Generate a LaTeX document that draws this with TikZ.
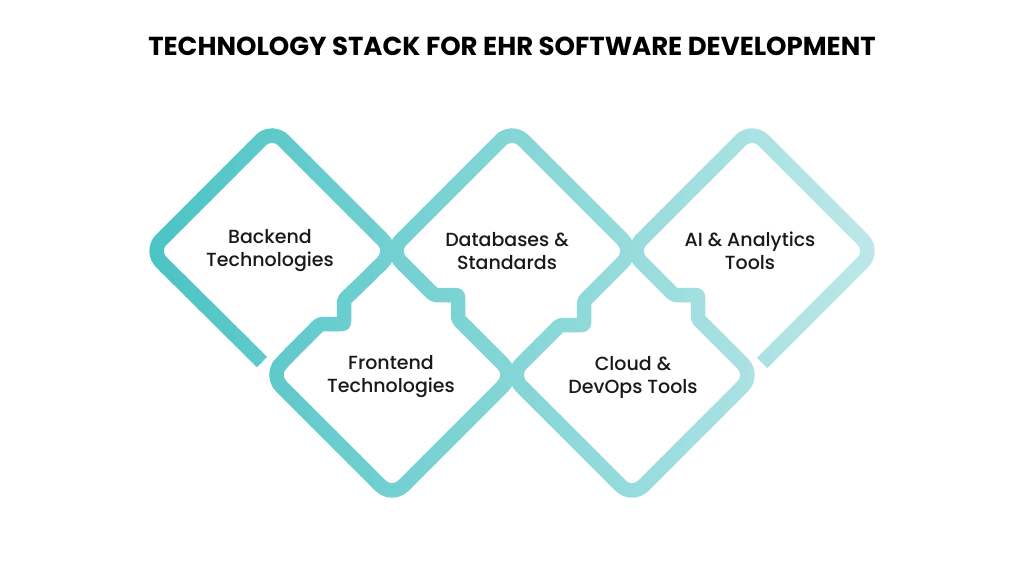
\documentclass[tikz,border=0pt]{standalone}
\usepackage{fontspec}
\setmainfont{Poppins}
\newfontfamily\lblfont{Poppins Medium}
\begin{document}
\begin{tikzpicture}[x=1pt,y=-1pt,
  lbl/.style={align=center,font=\lblfont\fontsize{19}{23}\selectfont,text=black!90},
  ttl/.style={font=\bfseries\fontsize{26}{30}\selectfont,text=black}]
\useasboundingbox (0,0) rectangle (1024,576);
\fill[white] (0,0) rectangle (1024,576);
\def\chain{(262,362) [rounded corners=16] -- (150,251) -- (272,129) -- (394,251) -- (369,276) [rounded corners=2] -- (344,300) -- (344,324) -- (320,324) -- (295,349) [rounded corners=16] -- (270,375)
 -- (392,497) -- (514,375) -- (486,347) [rounded corners=2] -- (458,319) -- (458,295) -- (434,295) -- (412,273) [rounded corners=16] -- (390,251)
 -- (512,129) -- (634,251) -- (609,276) [rounded corners=2] -- (584,301) -- (584,325) -- (560,325) -- (535,350) [rounded corners=16] -- (510,375)
 -- (632,497) -- (754,375) -- (726,347) [rounded corners=2] -- (698,319) -- (698,295) -- (674,295) -- (652,273) [rounded corners=16] -- (630,251)
 -- (752,129) -- (874,251) -- (762,363)}
\foreach \i in {0,...,59}{
  \pgfmathsetmacro\xa{135+\i*12.5}
  \pgfmathsetmacro\t{\i/59}
  \pgfmathsetmacro\r{75+115*\t}
  \pgfmathsetmacro\g{195+37*\t}
  \pgfmathsetmacro\b{196+37*\t}
  \definecolor{cc}{RGB}{\r,\g,\b}
  \begin{scope}
    \clip (\xa,100) rectangle ({\xa+14},520);
    \draw[cc,line width=14.5,line cap=butt,line join=round] \chain;
  \end{scope}
}
\node[ttl] (title) at (512,46) {TECHNOLOGY STACK FOR EHR SOFTWARE DEVELOPMENT};
\node[lbl] (be) at (270,251) {Backend\\Technologies};
\node[lbl] (fe) at (391,377) {Frontend\\Technologies};
\node[lbl] (db) at (507,251) {Databases \&\\Standards};
\node[lbl] (cl) at (633,377) {Cloud \&\\DevOps Tools};
\node[lbl] (ai) at (750,251) {AI \& Analytics\\Tools};
\end{tikzpicture}
\end{document}
